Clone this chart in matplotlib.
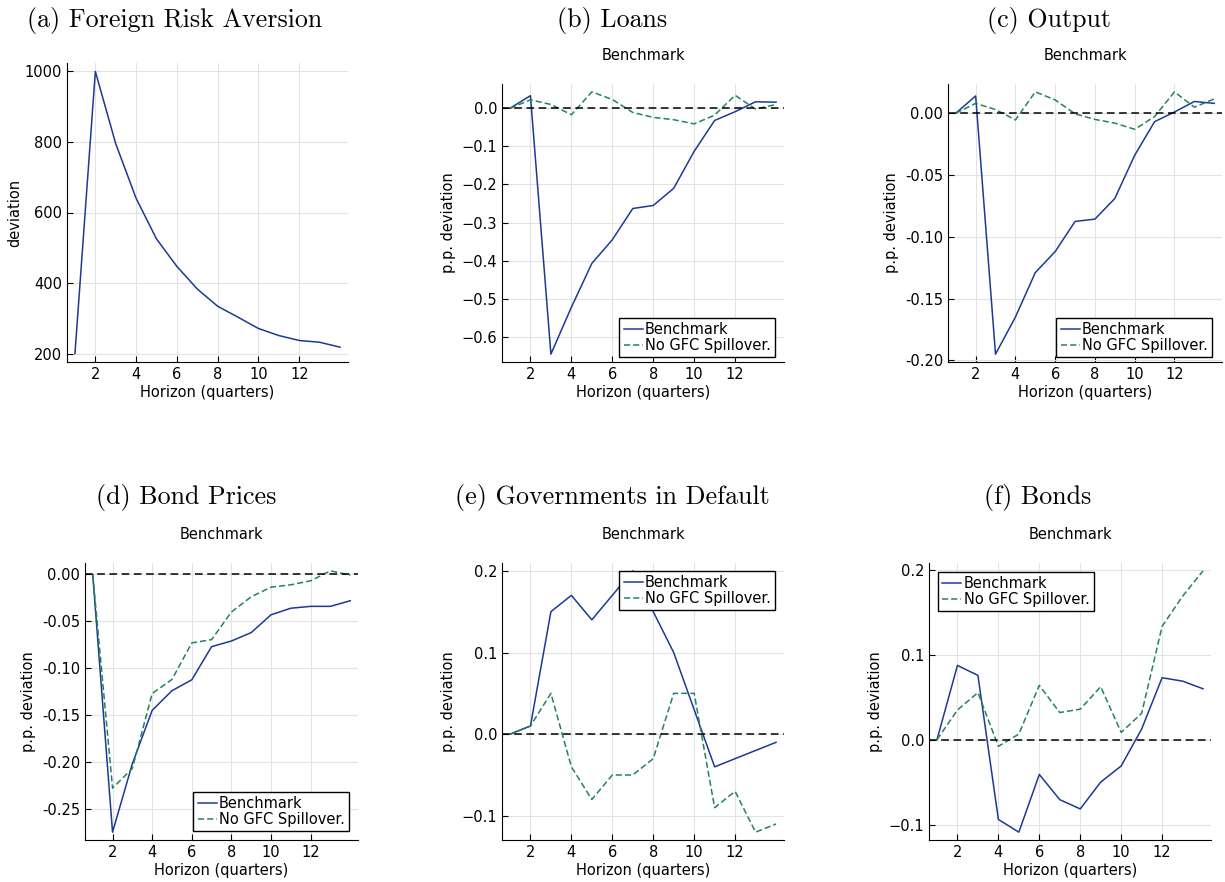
import matplotlib
matplotlib.use("Agg")
import matplotlib.pyplot as plt

# horizon in quarters
horizon = list(range(1, 15))

# (a) foreign risk aversion
risk_aversion = [200, 1000, 795, 640, 525, 447, 383, 334, 303, 271, 251, 237, 232, 218]

# (b) loans
loans_bench = [0.0, 0.033, -0.645, -0.522, -0.407, -0.345, -0.263, -0.255, -0.21, -0.113, -0.032, -0.009, 0.017, 0.016]
loans_nogfc = [0.0, 0.022, 0.01, -0.017, 0.043, 0.023, -0.011, -0.024, -0.03, -0.041, -0.018, 0.034, -0.002, 0.01]

# (c) output
output_bench = [0.0, 0.014, -0.195, -0.165, -0.129, -0.112, -0.0876, -0.0857, -0.069, -0.034, -0.0068, 0.001, 0.0095, 0.008]
output_nogfc = [0.0, 0.008, 0.003, -0.0054, 0.0173, 0.0108, -0.0005, -0.005, -0.008, -0.013, -0.0027, 0.0173, 0.0049, 0.0116]

# (d) bond prices
bprice_bench = [0.0, -0.275, -0.202, -0.145, -0.124, -0.1124, -0.077, -0.071, -0.062, -0.043, -0.036, -0.034, -0.034, -0.028]
bprice_nogfc = [0.0, -0.228, -0.207, -0.127, -0.112, -0.073, -0.0695, -0.040, -0.0238, -0.0135, -0.011, -0.0067, 0.0039, -0.0007]

# (e) governments in default
default_bench = [0.0, 0.01, 0.15, 0.17, 0.14, 0.17, 0.2, 0.15, 0.1, 0.03, -0.04, -0.03, -0.02, -0.01]
default_nogfc = [0.0, 0.01, 0.05, -0.04, -0.08, -0.05, -0.05, -0.03, 0.05, 0.05, -0.09, -0.07, -0.12, -0.11]

# (f) bonds
bonds_bench = [0.0, 0.0875, 0.0758, -0.094, -0.109, -0.041, -0.0707, -0.0816, -0.05, -0.031, 0.0125, 0.073, 0.069, 0.060]
bonds_nogfc = [0.0, 0.035, 0.0555, -0.0078, 0.0066, 0.064, 0.032, 0.036, 0.0625, 0.0086, 0.031, 0.1336, 0.169, 0.199]

BLUE = "#1c3a94"
GREEN = "#23835a"
W, H = 1225, 882
FS = 10.5

plt.rcParams["font.family"] = "DejaVu Sans"
plt.rcParams["font.size"] = FS

fig = plt.figure(figsize=(W / 100, H / 100), dpi=100)


def make_axes(l, t, r, b):
    ax = fig.add_axes([l / W, 1 - b / H, (r - l) / W, (b - t) / H])
    ax.spines["top"].set_visible(False)
    ax.spines["right"].set_visible(False)
    ax.tick_params(direction="in", length=4, labelsize=FS, top=False, right=False)
    ax.grid(True, color="#e3e3e3", linewidth=0.8)
    ax.set_axisbelow(True)
    ax.margins(x=0.03, y=0.03)
    ax.set_xticks([2, 4, 6, 8, 10, 12])
    ax.set_xlabel("Horizon (quarters)", fontsize=FS, labelpad=2)
    return ax


def irf_panel(ax, bench, nogfc, yticks, legend_loc, anchor):
    ax.plot(horizon, bench, color=BLUE, lw=1.1, label="Benchmark")
    ax.plot(horizon, nogfc, color=GREEN, lw=1.1, ls=(0, (4, 2)), label="No GFC Spillover.")
    ax.axhline(0, color="black", lw=1.1, ls=(0, (5, 3)))
    ax.set_yticks(yticks)
    ax.set_ylabel("p.p. deviation", fontsize=FS)
    ax.set_title("Benchmark", fontsize=FS, pad=17)
    leg = ax.legend(loc=legend_loc, bbox_to_anchor=anchor, borderaxespad=0,
                    fancybox=False, framealpha=1, edgecolor="black",
                    handlelength=1.3, handletextpad=0.15, borderpad=0.3,
                    labelspacing=0.05, fontsize=FS)
    leg.get_frame().set_linewidth(1.0)


def caption(x, y, s):
    fig.text(x / W, 1 - y / H, s, family="cmr10", fontsize=18.7, ha="center", va="center")


# (a)
ax = make_axes(67, 63, 348, 362)
ax.plot(horizon, risk_aversion, color=BLUE, lw=1.1)
ax.set_yticks([200, 400, 600, 800, 1000])
ax.set_ylabel("deviation", fontsize=FS, labelpad=2)
caption(175, 20, "(a) Foreign Risk Aversion")

# (b)
ax = make_axes(502, 84, 784, 362)
irf_panel(ax, loans_bench, loans_nogfc, [0.0, -0.1, -0.2, -0.3, -0.4, -0.5, -0.6],
          "lower right", (1 - 9 / 282, 5 / 278))
caption(612, 20, "(b) Loans")

# (c)
ax = make_axes(948, 84, 1222, 362)
irf_panel(ax, output_bench, output_nogfc, [0.0, -0.05, -0.10, -0.15, -0.20],
          "lower right", (1 - 10 / 274, 5 / 278))
ax.yaxis.set_major_formatter(matplotlib.ticker.FormatStrFormatter("%.2f"))
caption(1049, 20, "(c) Output")

# (d)
ax = make_axes(85, 563, 358, 840)
irf_panel(ax, bprice_bench, bprice_nogfc, [0.0, -0.05, -0.10, -0.15, -0.20, -0.25],
          "lower right", (1 - 9 / 273, 9 / 277))
ax.yaxis.set_major_formatter(matplotlib.ticker.FormatStrFormatter("%.2f"))
caption(186, 498, "(d) Bond Prices")

# (e)
ax = make_axes(502, 563, 784, 840)
irf_panel(ax, default_bench, default_nogfc, [-0.1, 0.0, 0.1, 0.2],
          "upper right", (1 - 9 / 282, 1 - 8 / 277))
caption(612, 498, "(e) Governments in Default")

# (f)
ax = make_axes(929, 563, 1211, 840)
irf_panel(ax, bonds_bench, bonds_nogfc, [-0.1, 0.0, 0.1, 0.2],
          "upper left", (9 / 282, 1 - 9 / 277))
caption(1038, 498, "(f) Bonds")

fig.savefig("out.png", dpi=100)
